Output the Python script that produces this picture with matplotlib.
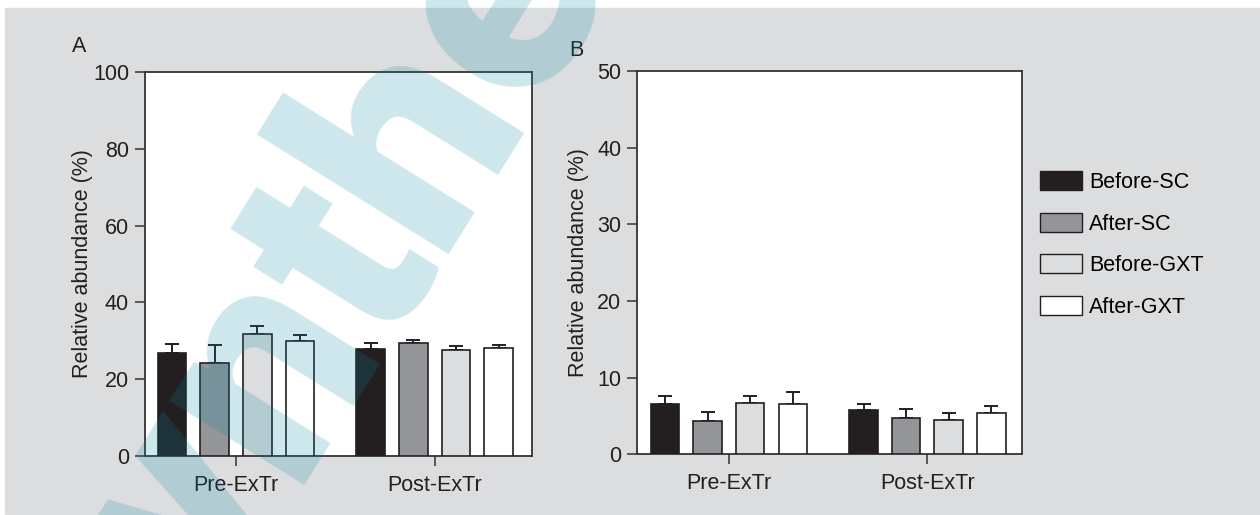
import matplotlib.pyplot as plt
from matplotlib.patches import Patch, Rectangle
import numpy as np

plt.rcParams['font.family'] = ['Liberation Sans', 'DejaVu Sans']

conditions = ['Before-SC', 'After-SC', 'Before-GXT', 'After-GXT']
phases = ['Pre-ExTr', 'Post-ExTr']
colors = ['#231f20', '#939598', '#dcddde', '#ffffff']

# panel A: mean relative abundance (%) and upper error, Pre then Post
a_pre = [26.8, 24.3, 31.7, 30.0]
a_post = [27.8, 29.4, 27.6, 28.0]
a_pre_err = [2.4, 4.6, 2.2, 1.5]
a_post_err = [1.5, 0.7, 1.0, 0.9]

# panel B
b_pre = [6.6, 4.4, 6.7, 6.6]
b_post = [5.8, 4.7, 4.5, 5.4]
b_pre_err = [1.05, 1.1, 0.95, 1.5]
b_post_err = [0.8, 1.25, 0.9, 0.9]

fs = 15.5
edge = '#231f20'
spine_col = '#333333'
group_gap = 4.66
bar_w = 0.67


def draw_panel(ax, pre, post, pre_err, post_err, ymax, ystep, xlim):
    for i in range(4):
        xs = [i, group_gap + i]
        vals = [pre[i], post[i]]
        errs = [pre_err[i], post_err[i]]
        ax.errorbar(xs, vals, yerr=[[0, 0], errs], fmt='none', ecolor=edge,
                    elinewidth=1.4, capsize=5, capthick=1.4, zorder=2)
        ax.bar(xs, vals, width=bar_w, color=colors[i], edgecolor=edge,
               linewidth=1.2, zorder=3)
    ax.set_xlim(*xlim)
    ax.set_ylim(0, ymax)
    ax.set_yticks(np.arange(0, ymax + 1, ystep))
    ax.set_xticks([1.5, group_gap + 1.5])
    ax.set_xticklabels(phases)
    ax.tick_params(direction='out', length=7.5, width=1.1, colors=spine_col,
                   labelcolor='#231f20', labelsize=fs, pad=4)
    ax.tick_params(axis='x', pad=6)
    for s in ax.spines.values():
        s.set_color(spine_col)
        s.set_linewidth(1.3)
    ax.set_ylabel('Relative abundance (%)', fontsize=fs, color='#231f20')


fig = plt.figure(figsize=(12.6, 5.15), dpi=100)
fig.patch.set_facecolor('white')
fig.patches.append(Rectangle((5 / 1260, 1 / 515), 1, 506.5 / 515,
                             transform=fig.transFigure, color='#dcdddf',
                             zorder=-10))

axA = fig.add_axes([0.1151, 0.1146, 0.3071, 0.7456])
axB = fig.add_axes([0.5058, 0.1179, 0.3053, 0.7443])

draw_panel(axA, a_pre, a_post, a_pre_err, a_post_err, 100, 20, (-0.63, 8.44))
draw_panel(axB, b_pre, b_post, b_pre_err, b_post_err, 50, 10, (-0.65, 8.38))
axA.yaxis.set_label_coords(-0.135, 0.5)
axB.yaxis.set_label_coords(-0.126, 0.5)

fig.text(79 / 1260, 1 - 47 / 515, 'A', ha='center', va='center', fontsize=fs,
         color='#231f20')
fig.text(576 / 1260, 1 - 50 / 515, 'B', ha='center', va='center', fontsize=fs,
         color='#231f20')

handles = [Patch(facecolor=c, edgecolor=edge, linewidth=1.0) for c in colors]
fig.legend(handles, conditions, loc='upper left', bbox_to_anchor=(0.8254, 0.668),
           frameon=False, fontsize=fs, handlelength=1.94, handleheight=0.98,
           handletextpad=0.33, labelspacing=0.92, borderpad=0, borderaxespad=0)

# publisher watermark across the figure
fig.text(0.089, -0.511, 'Synthesis', rotation=58, rotation_mode='anchor',
         ha='left', va='baseline', fontsize=216, fontweight='black',
         family='Roboto', color='#0989a3', alpha=0.2, zorder=100)

fig.savefig('out.png', dpi=100, facecolor=fig.get_facecolor())
